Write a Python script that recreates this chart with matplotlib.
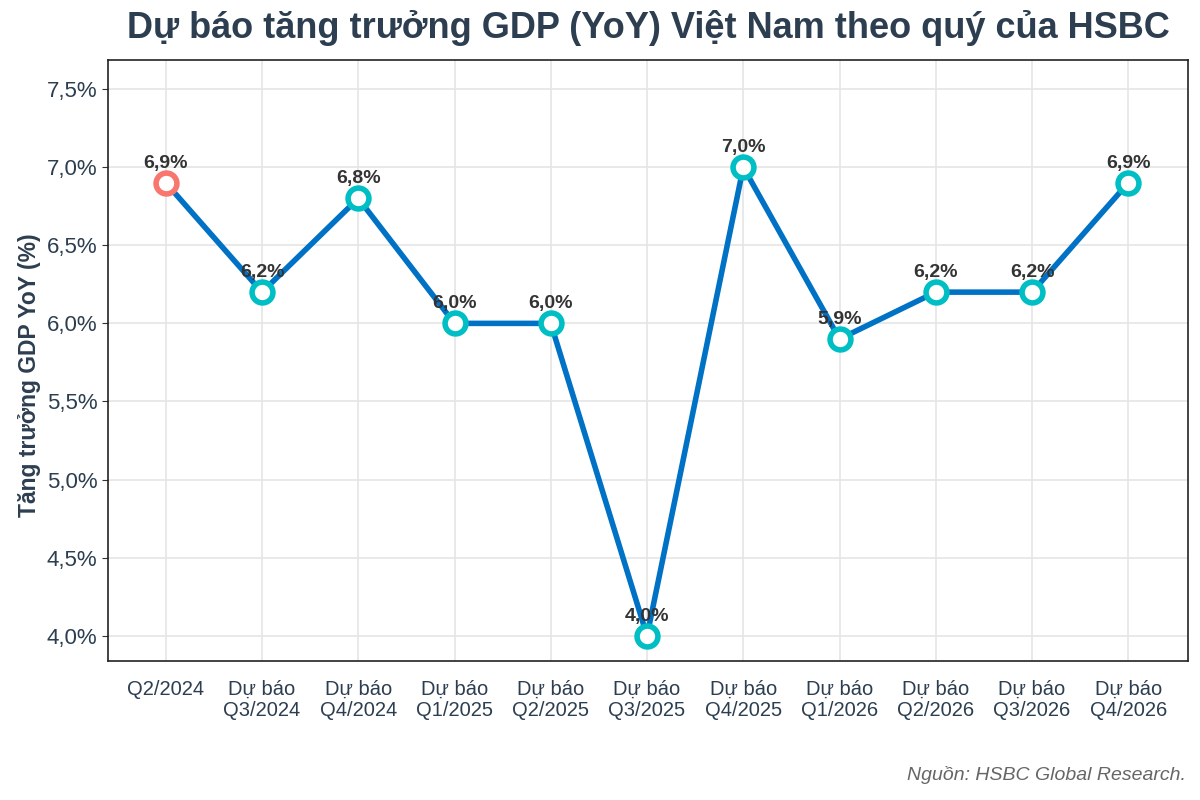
import matplotlib.pyplot as plt
import numpy as np

plt.rcParams['font.family'] = ['Liberation Sans', 'DejaVu Sans']

quarters = ['Q2/2024', 'Dự báo\nQ3/2024', 'Dự báo\nQ4/2024', 'Dự báo\nQ1/2025',
            'Dự báo\nQ2/2025', 'Dự báo\nQ3/2025', 'Dự báo\nQ4/2025', 'Dự báo\nQ1/2026',
            'Dự báo\nQ2/2026', 'Dự báo\nQ3/2026', 'Dự báo\nQ4/2026']
gdp = [6.9, 6.2, 6.8, 6.0, 6.0, 4.0, 7.0, 5.9, 6.2, 6.2, 6.9]
is_forecast = [False] + [True] * 10

x = np.arange(len(quarters))
dark = '#2c3e50'

fig = plt.figure(figsize=(12, 8), dpi=100)
ax = fig.add_axes([0.09, 0.174, 0.9, 0.751])

ax.plot(x, gdp, color='#0072c6', lw=4, zorder=2)
for xi, v, f in zip(x, gdp, is_forecast):
    c = '#00bfc4' if f else '#f8766d'
    ax.plot(xi, v, 'o', ms=15, mfc='white', mec=c, mew=4, zorder=3)
    ax.text(xi, v + 0.07, f'{v:.1f}%'.replace('.', ','), ha='center', va='bottom',
            fontsize=14, fontweight='bold', color='#333333', zorder=4)

ax.set_xlim(-0.6, 10.62)
ax.set_ylim(3.84, 7.686)
yt = [4.0, 4.5, 5.0, 5.5, 6.0, 6.5, 7.0, 7.5]
ax.set_yticks(yt)
ax.set_yticklabels([f'{t:.1f}%'.replace('.', ',') for t in yt], fontsize=16, color=dark)
ax.set_xticks(x)
ax.set_xticklabels(quarters, fontsize=14.5, color=dark, linespacing=1.1)
ax.tick_params(axis='x', length=0, pad=14)
ax.tick_params(axis='y', length=4, color='#333333')
ax.grid(True, color='#e5e5e5', lw=1.2)
ax.set_axisbelow(True)
for s in ax.spines.values():
    s.set_color('#222222')
    s.set_linewidth(1.2)

ax.set_ylabel('Tăng trưởng GDP YoY (%)', fontsize=16.5, fontweight='bold', color=dark, labelpad=6)
ax.yaxis.set_label_coords(-0.062, 0.475)
fig.suptitle('Dự báo tăng trưởng GDP (YoY) Việt Nam theo quý của HSBC', x=0.54, y=0.988,
             fontsize=26, fontweight='bold', color=dark)
fig.text(0.988, 0.02, 'Nguồn: HSBC Global Research.', ha='right', va='bottom',
         fontsize=14, style='italic', color='#666666')

plt.savefig('out.png', dpi=100)
